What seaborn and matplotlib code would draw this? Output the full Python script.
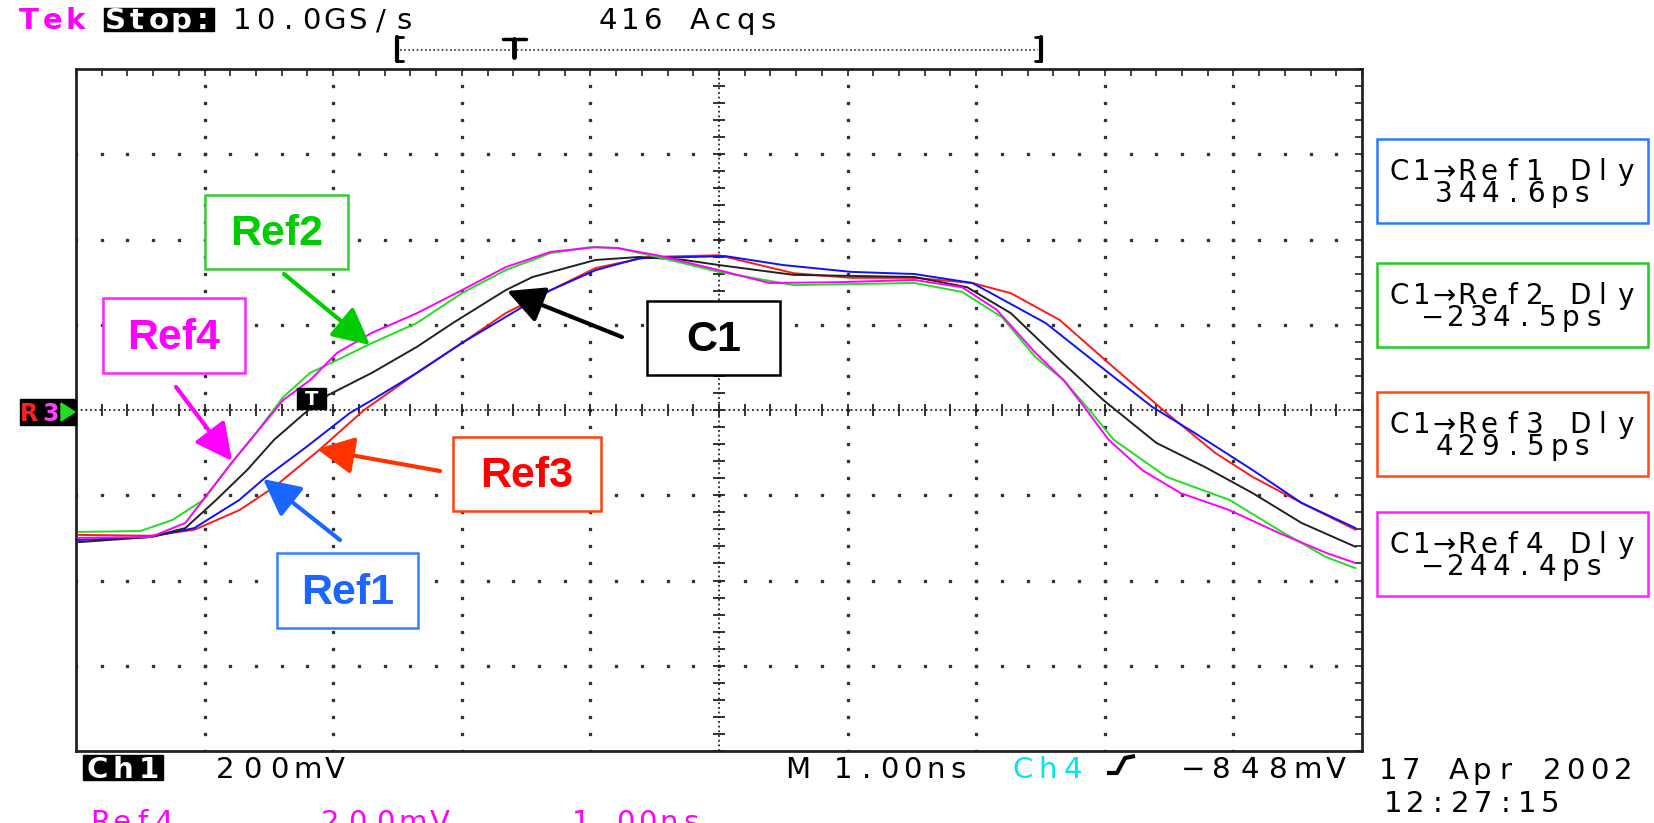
import matplotlib
matplotlib.use("Agg")
import matplotlib.pyplot as plt
import numpy as np
import pandas as pd
import seaborn as sns
from matplotlib.patches import Rectangle, Polygon

# trace data: time (ns) and level (mV, relative to centre line)
ref1_t = [0.02, 0.58, 0.92, 1.27, 1.47, 1.79, 2.13, 2.30, 2.65, 3.00, 3.34, 3.69, 4.04, 4.38,
          5.05, 5.50, 6.03, 6.52, 6.97, 7.54, 8.03, 8.37, 8.70, 9.15, 9.53, 9.95]
ref1_mv = [-305, -298, -277, -211, -159, -87, -7, 23, 87, 157, 218, 281, 328, 356,
           361, 340, 324, 319, 298, 204, 87, 7, -54, -141, -218, -277]

ref2_t = [0.02, 0.50, 0.75, 0.99, 1.21, 1.40, 1.61, 1.82, 2.03, 2.30, 2.65, 3.00, 3.34, 3.69,
          4.00, 4.21, 4.52, 5.00, 5.58, 6.52, 6.89, 7.20, 7.46, 7.68, 7.88, 8.07, 8.48, 8.97,
          9.35, 9.72, 9.95]
ref2_mv = [-286, -284, -258, -211, -124, -54, 30, 87, 117, 157, 204, 274, 328, 368,
           382, 380, 359, 324, 293, 298, 277, 218, 124, 70, 0, -70, -157, -211,
           -281, -345, -371]

ref3_t = [0.02, 0.58, 0.92, 1.27, 1.54, 1.89, 2.24, 2.65, 3.00, 3.34, 3.69, 4.04, 4.45, 5.00,
          5.58, 6.03, 6.52, 6.97, 7.27, 7.65, 8.03, 8.48, 8.86, 9.15, 9.53, 9.95]
ref3_mv = [-293, -295, -281, -235, -181, -94, 0, 87, 157, 227, 281, 333, 359, 363,
           321, 310, 310, 298, 274, 211, 110, -7, -101, -157, -218, -281]

ref4_t = [0.02, 0.58, 0.85, 1.21, 1.61, 1.82, 2.03, 2.30, 2.65, 3.00, 3.34, 3.69, 4.04, 4.21,
          4.52, 5.00, 5.39, 5.95, 6.52, 6.89, 7.16, 7.46, 7.68, 7.84, 8.03, 8.29, 8.59, 8.97,
          9.35, 9.72, 9.95]
ref4_mv = [-300, -298, -265, -124, 23, 70, 134, 181, 227, 281, 335, 371, 382, 380,
           363, 328, 298, 300, 305, 288, 235, 134, 70, 7, -70, -141, -195, -235,
           -288, -335, -359]

c1_t = [0.02, 0.58, 0.85, 1.09, 1.33, 1.54, 1.78, 1.96, 2.30, 2.65, 2.93, 3.34, 3.55, 4.04,
        4.38, 4.73, 5.00, 5.58, 6.52, 6.93, 7.27, 7.65, 7.99, 8.40, 8.78, 9.15, 9.53, 9.95]
c1_mv = [-310, -298, -277, -211, -141, -70, -7, 35, 87, 148, 204, 281, 312, 352,
         359, 352, 340, 317, 312, 288, 227, 117, 23, -77, -134, -195, -265, -321]

trace_names = ["Ref3", "Ref1", "C1", "Ref2", "Ref4"]
trace_colors = {"Ref1": "#1010ff", "Ref2": "#22dd22", "Ref3": "#ff1a1a",
                "Ref4": "#ff00ff", "C1": "#222222"}

delays = ["344.6ps", "\u2212234.5ps", "429.5ps", "\u2212244.4ps"]
delay_colors = ["#2a7bff", "#22cc22", "#ff4a1a", "#ff22ff"]

frames = []
for name, t, v in [("Ref1", ref1_t, ref1_mv), ("Ref2", ref2_t, ref2_mv), ("Ref3", ref3_t, ref3_mv),
                   ("Ref4", ref4_t, ref4_mv), ("C1", c1_t, c1_mv)]:
    frames.append(pd.DataFrame({"trace": name, "ns": t, "mV": v}))
df = pd.concat(frames, ignore_index=True)

sns.set_style("white")
plt.rcParams["font.family"] = ["DejaVu Sans"]

W, H = 1654, 823
fig = plt.figure(figsize=(W / 100, H / 100), dpi=100)
ax = fig.add_axes([76 / W, (H - 751) / H, 1286 / W, 682 / H])

# graticule: dotted division lines, denser centre cross
minor_x = np.arange(0, 10.001, 0.2)
minor_y = np.arange(-800, 800.1, 40)
for gx in range(1, 10):
    if gx != 5:
        ax.plot([gx] * len(minor_y), minor_y, ls="none", marker="s", ms=1.8, color="#333333", zorder=1)
for gy in range(-600, 601, 200):
    if gy != 0:
        ax.plot(minor_x, [gy] * len(minor_x), ls="none", marker="s", ms=1.8, color="#333333", zorder=1)
ax.axvline(5, ls=(0, (1, 1.6)), lw=1.3, color="#222222", zorder=1)
ax.axhline(0, ls=(0, (1, 1.6)), lw=1.3, color="#222222", zorder=1)
ax.plot(minor_x, [0] * len(minor_x), ls="none", marker="|", ms=8, mew=1.3, color="#222222", zorder=1)
ax.plot([5] * len(minor_y), minor_y, ls="none", marker="_", ms=8, mew=1.3, color="#222222", zorder=1)

for name in trace_names:
    sub = df[df["trace"] == name]
    sns.lineplot(data=sub, x="ns", y="mV", color=trace_colors[name], lw=1.4,
                 sort=False, estimator=None, ax=ax, zorder=3)

ax.set_xlim(0, 10)
ax.set_ylim(-800, 800)
ax.set_xticks(minor_x)
ax.set_yticks(minor_y)
ax.tick_params(direction="in", length=5, width=1.2, color="#222222", top=True, right=True,
               labelbottom=False, labelleft=False)
ax.set_xlabel("")
ax.set_ylabel("")
for s in ax.spines.values():
    s.set_color("#222222")
    s.set_linewidth(2)

# overlay in screen pixels for the scope read-outs and the hand-drawn callouts
ov = fig.add_axes([0, 0, 1, 1])
ov.set_xlim(0, W)
ov.set_ylim(H, 0)
ov.axis("off")
ov.patch.set_visible(False)


def mono(x0, base, s, pitch, color="black", size=21, **kw):
    # fixed-pitch screen text, one cell per character
    for i, ch in enumerate(s):
        ov.text(x0 + (i + 0.5) * pitch, base, ch, ha="center", va="baseline",
                color=color, fontsize=size, **kw)


# header
mono(17, 29, "Tek", 23.5, color="#ff00ff", fontweight="bold")
ov.add_patch(Rectangle((104, 8), 110, 23, color="black"))
mono(104, 29, "Stop:", 22, color="white", fontweight="bold")
mono(231, 29, "10.0GS/s", 23)
mono(596, 29, "416 Acqs", 23)
ov.plot([400, 1038], [50, 50], ls=(0, (1, 1.5)), lw=1.2, color="#333333")
ov.plot([397, 397], [37, 61], lw=3, color="black")
ov.plot([397, 403], [37, 37], lw=2, color="black")
ov.plot([397, 403], [61, 61], lw=2, color="black")
ov.plot([1041, 1041], [37, 61], lw=3, color="black")
ov.plot([1035, 1041], [37, 37], lw=2, color="black")
ov.plot([1035, 1041], [61, 61], lw=2, color="black")
ov.plot([503, 526], [39, 39], lw=2.5, color="black")
ov.plot([514, 514], [39, 57], lw=3.5, color="black")

# footer
ov.add_patch(Rectangle((83, 755), 80, 25, color="black"))
mono(84, 778, "Ch1", 26, color="white", fontweight="bold")
mono(211, 778, "200mV", 27.5)
mono(786, 778, "M 1.00ns", 23)
mono(1010, 778, "Ch4", 25, color="#00e5ee")
ov.plot([1107, 1117, 1125, 1135], [773, 773, 758, 756], lw=3, color="black",
        solid_capstyle="butt")
mono(1179, 778, "\u2212848mV", 28.5)
mono(1376, 779, "17 Apr 2002", 23.5)
mono(1382, 812, "12:27:15", 22.4)
mono(90, 831, "Ref4", 21, color="#ff00ff")
mono(316, 831, "200mV", 27.6, color="#ff00ff")
mono(570, 831, "1.00ns", 22, color="#ff00ff")

# channel marker on the left edge
ov.add_patch(Rectangle((20, 399), 56, 26, color="black"))
ov.text(29, 421, "R", color="#ff2020", fontsize=17, fontweight="bold", ha="center", va="baseline")
ov.text(51, 421, "3", color="#ff40ff", fontsize=17, fontweight="bold", ha="center", va="baseline")
ov.add_patch(Polygon([[61, 403], [61, 421], [75, 412]], closed=True, color="#22dd22"))

# trigger marker on the trace
ov.add_patch(Rectangle((297, 388), 29, 21, color="black", zorder=5))
ov.text(311.5, 405, "T", color="white", fontsize=14, fontweight="bold", ha="center",
        va="baseline", zorder=6)

# delay read-out boxes on the right
box_tops = [139, 263, 392, 512]
for i, (top, val, col) in enumerate(zip(box_tops, delays, delay_colors)):
    ov.add_patch(Rectangle((1377, top), 271, 84, fill=False, ec=col, lw=1.8))
    line1 = "C1\u2192Ref%d Dly" % (i + 1)
    mono(1512 - len(line1) * 22.6 / 2, top + 41, line1, 22.6, size=20)
    mono(1513 - len(val) * 23 / 2, top + 63, val, 23, size=20)

# callout labels with arrows
callouts = [
    ("Ref2", (205, 195, 143, 74), "#00cc00", "#33cc33", (284, 274), (370, 345)),
    ("Ref4", (103, 298, 142, 75), "#ff00ff", "#ff22ff", (176, 387), (232, 461)),
    ("C1", (647, 301, 133, 74), "black", "black", (622, 337), (507, 291)),
    ("Ref3", (453, 437, 148, 74), "#ff0000", "#ff4010", (440, 471), (317, 449)),
    ("Ref1", (277, 553, 141, 75), "#1a66ff", "#3380ff", (340, 540), (263, 479)),
]
for label, (bx, by, bw, bh), tcol, ecol, tail, tip in callouts:
    ov.add_patch(Rectangle((bx, by), bw, bh, facecolor="white", ec=ecol, lw=1.8, zorder=4))
    ov.text(bx + bw / 2, by + bh / 2 + 2, label, color=tcol, fontsize=31, fontweight="bold",
            family="Liberation Sans", ha="center", va="center", zorder=5)
    ov.annotate("", xy=tip, xytext=tail, zorder=6,
                arrowprops=dict(arrowstyle="-|>,head_length=0.75,head_width=0.38",
                                mutation_scale=30, lw=3, color=tcol if label != "Ref3" else "#ff3300",
                                shrinkA=0, shrinkB=0))

fig.savefig("out.png", dpi=100)
